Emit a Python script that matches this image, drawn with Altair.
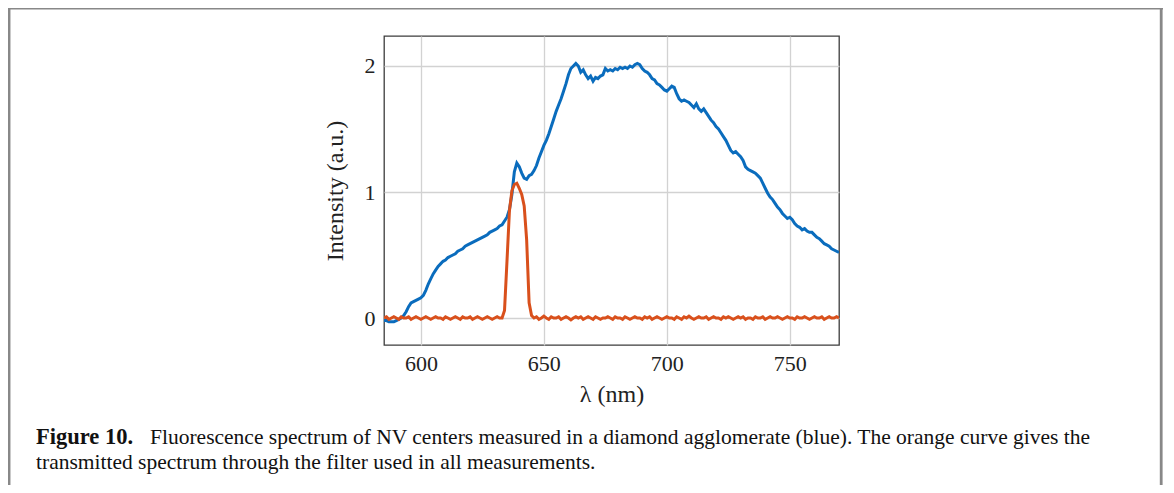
import altair as alt
import pandas as pd

wavelength = list(range(585, 771))

blue = [
    -0.02, -0.02, -0.03, -0.03, -0.03, -0.02, -0.01, 0.00, 0.02, 0.05,
    0.09, 0.12, 0.13, 0.14, 0.15, 0.16, 0.18, 0.22, 0.27, 0.31,
    0.35, 0.38, 0.41, 0.43, 0.45, 0.46, 0.48, 0.49, 0.50, 0.51,
    0.53, 0.54, 0.55, 0.57, 0.58, 0.59, 0.60, 0.61, 0.62, 0.63,
    0.64, 0.65, 0.66, 0.68, 0.69, 0.70, 0.71, 0.73, 0.74, 0.77,
    0.80, 0.86, 0.98, 1.16, 1.23, 1.20, 1.15, 1.11, 1.10, 1.13,
    1.14, 1.17, 1.21, 1.27, 1.32, 1.37, 1.41, 1.46, 1.52, 1.58,
    1.64, 1.69, 1.74, 1.80, 1.86, 1.93, 1.98, 2.00, 2.02, 2.00,
    1.95, 1.97, 1.93, 1.90, 1.92, 1.88, 1.91, 1.90, 1.92, 1.93,
    1.98, 1.96, 1.97, 1.96, 1.98, 1.97, 1.99, 1.98, 1.99, 1.98,
    2.00, 1.99, 2.01, 2.02, 2.01, 1.98, 1.96, 1.95, 1.93, 1.90,
    1.89, 1.86, 1.85, 1.83, 1.81, 1.80, 1.82, 1.84, 1.83, 1.78,
    1.74, 1.72, 1.73, 1.72, 1.71, 1.69, 1.67, 1.70, 1.66, 1.64,
    1.66, 1.63, 1.60, 1.57, 1.55, 1.52, 1.50, 1.47, 1.44, 1.41,
    1.37, 1.33, 1.31, 1.32, 1.30, 1.28, 1.25, 1.20, 1.18, 1.17,
    1.16, 1.15, 1.13, 1.11, 1.07, 1.03, 0.99, 0.96, 0.94, 0.91,
    0.88, 0.86, 0.83, 0.81, 0.79, 0.80, 0.78, 0.75, 0.73, 0.72,
    0.70, 0.71, 0.69, 0.68, 0.68, 0.66, 0.64, 0.63, 0.61, 0.59,
    0.58, 0.57, 0.55, 0.54, 0.53, 0.52,
]

orange = [
    0.00, 0.01, -0.01, 0.00, 0.01, 0.00, -0.01, 0.01, 0.00, 0.00,
    0.01, -0.01, 0.00, 0.01, 0.00, -0.01, 0.00, 0.01, 0.00, -0.01,
    0.00, 0.01, 0.00, 0.00, -0.01, 0.01, 0.00, -0.01, 0.00, 0.01,
    0.00, -0.01, 0.01, 0.00, 0.00, 0.01, -0.01, 0.00, 0.01, 0.00,
    -0.01, 0.00, 0.01, 0.00, -0.01, 0.00, 0.01, 0.00, 0.00, 0.06,
    0.45, 0.85, 1.01, 1.06, 1.07, 1.03, 0.98, 0.89, 0.62, 0.12,
    0.02, 0.00, 0.01, -0.01, 0.00, 0.015, 0.00, -0.01, 0.01, 0.00,
    0.00, 0.01, -0.01, 0.00, 0.01, 0.00, -0.015, 0.00, 0.01, 0.00,
    0.01, -0.01, 0.00, 0.01, 0.00, -0.01, 0.01, 0.00, -0.01, 0.00,
    0.00, 0.01, 0.00, -0.01, 0.01, 0.00, 0.00, -0.01, 0.01, 0.00,
    -0.01, 0.00, 0.01, 0.00, 0.00, -0.01, 0.01, 0.00, 0.01, -0.01,
    0.00, 0.01, 0.00, -0.01, 0.00, 0.01, 0.00, 0.00, -0.01, 0.01,
    0.00, -0.01, 0.01, 0.00, 0.015, 0.00, -0.01, 0.00, 0.01, 0.00,
    0.00, 0.01, -0.01, 0.00, 0.01, 0.00, 0.00, -0.01, 0.01, 0.00,
    0.01, 0.00, -0.01, 0.00, 0.01, 0.00, 0.01, -0.01, 0.00, 0.00,
    -0.01, 0.01, 0.00, 0.00, 0.01, -0.01, 0.00, 0.01, 0.00, 0.00,
    0.01, 0.00, -0.01, 0.00, 0.01, 0.00, 0.00, -0.01, 0.01, 0.00,
    0.00, 0.01, 0.00, -0.01, 0.00, 0.01, 0.00, 0.00, 0.01, -0.01,
    0.00, 0.01, 0.00, 0.00, 0.01, 0.00,
]

x_ticks = [600, 650, 700, 750]
y_ticks = [0, 1, 2]
x_domain = [585, 770]
y_domain = [-0.214, 2.238]

caption_bold = "Figure 10."
caption_line1 = "Fluorescence spectrum of NV centers measured in a diamond agglomerate (blue). The orange curve gives the"
caption_line2 = "transmitted spectrum through the filter used in all measurements."

FONT = "Liberation Serif"
CAP = 21.5

df = pd.DataFrame({"wl": wavelength, "blue": blue, "orange": orange})

axis_style = dict(grid=True, ticks=False, domain=False, format="d",
                  labelFont=FONT, titleFont=FONT, labelFontSize=22, titleFontSize=24,
                  labelColor="#222", titleColor="#222", titleFontWeight="normal",
                  gridColor="#d2d2d2", gridWidth=1.3)

xenc = alt.X("wl:Q", scale=alt.Scale(domain=x_domain, nice=False, zero=False),
             axis=alt.Axis(values=x_ticks, title="λ (nm)", labelPadding=8, titlePadding=8,
                           **axis_style))
yaxis = alt.Axis(values=y_ticks, title="Intensity (a.u.)", labelPadding=9, titlePadding=17,
                 **axis_style)
yscale = alt.Scale(domain=y_domain, nice=False, zero=False)

base = alt.Chart(df)
blue_line = base.mark_line(color="#0a6cbd", strokeWidth=3, clip=True).encode(
    x=xenc, y=alt.Y("blue:Q", scale=yscale, axis=yaxis))
orange_line = base.mark_line(color="#d9501c", strokeWidth=3, clip=True).encode(
    x="wl:Q", y=alt.Y("orange:Q"))

one = pd.DataFrame({"k": [0]})
txt_bold = alt.Chart(pd.DataFrame({"t": [caption_bold]})).mark_text(
    font=FONT, fontSize=22.5, fontWeight="bold", align="left", baseline="alphabetic", color="#111"
).encode(x=alt.value(-348), y=alt.value(408), text="t:N")
txt_l1 = alt.Chart(pd.DataFrame({"t": [caption_line1]})).mark_text(
    font=FONT, fontSize=CAP, align="left", baseline="alphabetic", color="#111"
).encode(x=alt.value(-234), y=alt.value(408), text="t:N")
txt_l2 = alt.Chart(pd.DataFrame({"t": [caption_line2]})).mark_text(
    font=FONT, fontSize=CAP, align="left", baseline="alphabetic", color="#111"
).encode(x=alt.value(-348), y=alt.value(433), text="t:N")

left_border = alt.Chart(one).mark_rule(color="#888888", strokeWidth=2.5).encode(
    x=alt.value(-374.8), y=alt.value(-28), y2=alt.value(460))
top_border = alt.Chart(one).mark_rule(color="#888888", strokeWidth=1.5).encode(
    x=alt.value(-376), x2=alt.value(779), y=alt.value(-27.2))
right_border = alt.Chart(one).mark_rule(color="#888888", strokeWidth=2.8).encode(
    x=alt.value(777.2), y=alt.value(-28), y2=alt.value(460))

chart = alt.layer(
    blue_line, orange_line, txt_bold, txt_l1, txt_l2, left_border, top_border, right_border
).properties(
    width=455, height=309,
    padding={"left": 376, "top": 28, "right": 327, "bottom": 140},
    autosize=alt.AutoSizeParams(type="none"),
).configure_view(
    stroke="#3c3c3c", strokeWidth=1.3
)

chart.save("out.html", embed_options={"renderer": "svg", "actions": False})
